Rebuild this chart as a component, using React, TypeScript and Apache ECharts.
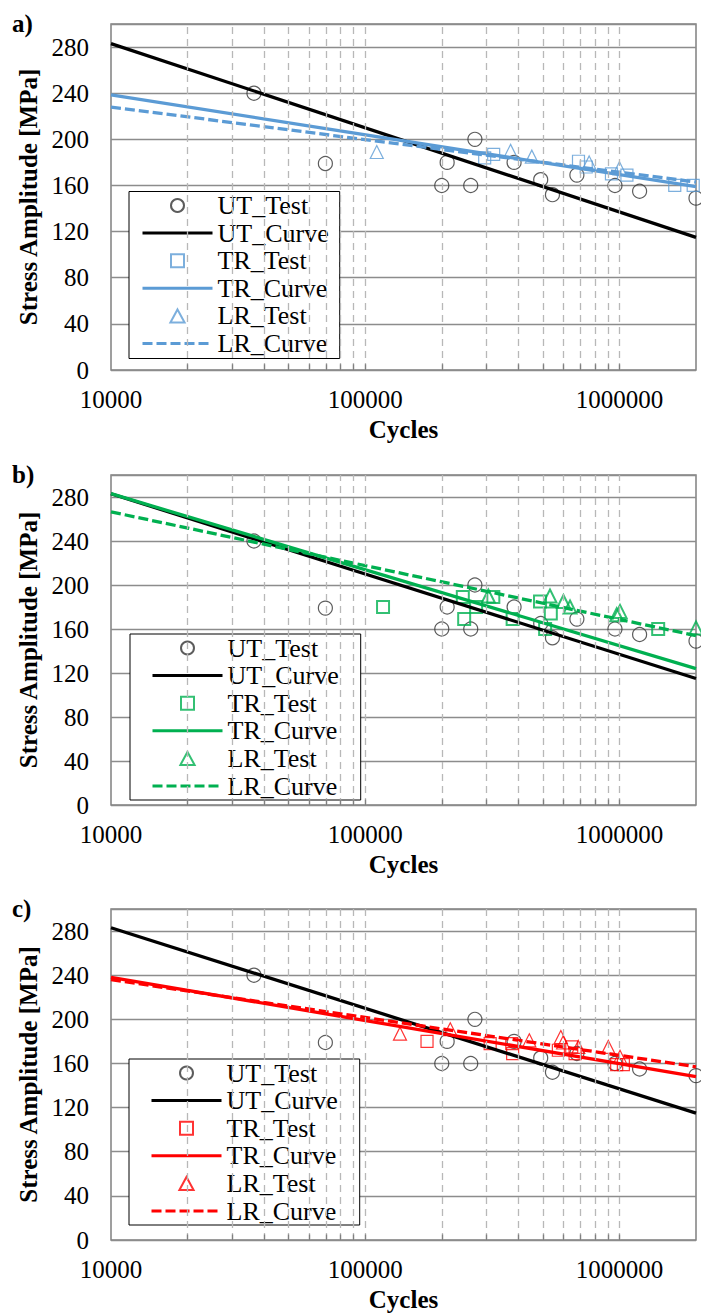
import React, { useEffect, useRef } from "react";
import * as echarts from "echarts";

const SERIF = "Liberation Serif";

// ---------- data ----------
const UT_TEST_CYCLES = [36500, 69700, 200000, 210000, 260000, 270000, 385000, 490000, 545000, 680000, 960000, 1200000, 2000000];
const UT_TEST_STRESS = [240, 179, 160, 180, 160, 200, 180, 165, 152, 169, 160, 155, 149];

const CURVE_CYCLES = [10000, 2000000];
const UT_CURVE_STRESS = [283, 115];

// panel a (blue)
const A_TR_TEST_CYCLES = [295000, 320000, 690000, 740000, 930000, 1070000, 1650000, 1950000];
const A_TR_TEST_STRESS = [184, 187, 181, 176, 170, 169, 160, 160];
const A_LR_TEST_CYCLES = [111000, 373000, 452000, 760000, 1000000];
const A_LR_TEST_STRESS = [189, 190, 185, 180, 175];
const A_TR_CURVE_STRESS = [238.5, 159];
const A_LR_CURVE_STRESS = [228, 163];

// panel b (green)
const B_TR_TEST_CYCLES = [117500, 242000, 245000, 273000, 319000, 380000, 487000, 510000, 537000, 1420000];
const B_TR_TEST_STRESS = [180, 189, 169, 180, 189, 169, 185, 160, 174, 160];
const B_LR_TEST_CYCLES = [305000, 533000, 602000, 639000, 975000, 1005000, 2000000];
const B_LR_TEST_STRESS = [190, 190, 185, 180, 173, 176, 161];
const B_TR_CURVE_STRESS = [283, 124];
const B_LR_CURVE_STRESS = [266.5, 154];

// panel c (red)
const C_TR_TEST_CYCLES = [175000, 310000, 377000, 380000, 575000, 649000, 669000, 975000, 1036000];
const C_TR_TEST_STRESS = [180, 178, 178, 169, 172, 175, 169, 159, 159];
const C_LR_TEST_CYCLES = [137000, 216000, 442000, 588000, 600000, 689000, 904000, 1005000];
const C_LR_TEST_STRESS = [187, 191, 181, 184, 179, 175, 175, 166];
const C_TR_CURVE_STRESS = [238, 148];
const C_LR_CURVE_STRESS = [236, 157];

// axis ticks
const X_MIN = 10000;
const X_MAX = 2000000;
const X_GRID_VALUES = [
  20000, 30000, 40000, 50000, 60000, 70000, 80000, 90000, 100000,
  200000, 300000, 400000, 500000, 600000, 700000, 800000, 900000, 1000000,
];
const Y_MIN = 0;
const Y_MAX = 300;
const Y_INTERVAL = 40;
const X_TICK_LENGTH = 5; // in stress units, drawn upward from the x axis

const LEGEND_NAMES = ["UT_Test", "UT_Curve", "TR_Test", "TR_Curve", "LR_Test", "LR_Curve"];

const zip = (xs: number[], ys: number[]) => xs.map((x, i) => [x, ys[i]]);

const SQUARE_ICON = "path://M0,0L12,0L12,12L0,12Z";
const TRIANGLE_ICON = "path://M6,0L12,11L0,11Z";

// ---------- layout / style ----------
const PANELS = [
  {
    key: "a",
    label: "a)",
    color: "#5B9BD5",
    tr: [A_TR_TEST_CYCLES, A_TR_TEST_STRESS],
    lr: [A_LR_TEST_CYCLES, A_LR_TEST_STRESS],
    trCurve: A_TR_CURVE_STRESS,
    lrCurve: A_LR_CURVE_STRESS,
    top: 24,
    height: 346,
    legendTop: 191.5,
    legendLeft: 129,
    legendPadding: [1, 11, 2, 12],
    markerBorder: 1.2,
  },
  {
    key: "b",
    label: "b)",
    color: "#00B050",
    tr: [B_TR_TEST_CYCLES, B_TR_TEST_STRESS],
    lr: [B_LR_TEST_CYCLES, B_LR_TEST_STRESS],
    trCurve: B_TR_CURVE_STRESS,
    lrCurve: B_LR_CURVE_STRESS,
    top: 475,
    height: 330,
    legendTop: 634,
    legendLeft: 130,
    legendPadding: [1, 22, 1, 21],
    markerBorder: 2,
  },
  {
    key: "c",
    label: "c)",
    color: "#FF0000",
    tr: [C_TR_TEST_CYCLES, C_TR_TEST_STRESS],
    lr: [C_LR_TEST_CYCLES, C_LR_TEST_STRESS],
    trCurve: C_TR_CURVE_STRESS,
    lrCurve: C_LR_CURVE_STRESS,
    top: 909,
    height: 331,
    legendTop: 1059,
    legendLeft: 129,
    legendPadding: [1, 22, 1, 21],
    markerBorder: 1.2,
  },
];

function buildOption() {
  const grid: any[] = [];
  const xAxis: any[] = [];
  const yAxis: any[] = [];
  const legend: any[] = [];
  const series: any[] = [];
  const graphic: any[] = [];

  PANELS.forEach((p, i) => {
    grid.push({
      left: 111,
      width: 585,
      top: p.top,
      height: p.height,
      show: true,
      borderColor: "#808080",
      borderWidth: 1.5,
      backgroundColor: "transparent",
    });
    xAxis.push({
      gridIndex: i,
      type: "log",
      logBase: 10,
      min: X_MIN,
      max: X_MAX,
      axisLine: { show: false },
      axisTick: { show: false },
      splitLine: { show: false },
      axisLabel: {
        showMaxLabel: false,
        margin: 17,
        color: "#000",
        fontFamily: SERIF,
        fontSize: 25,
        formatter: (v: number) => (Math.abs(Math.log10(v) - Math.round(Math.log10(v))) < 1e-6 ? String(Math.round(v)) : ""),
      },
      name: "Cycles",
      nameLocation: "middle",
      nameGap: 47,
      nameTextStyle: { color: "#000", fontFamily: SERIF, fontSize: 25, fontWeight: "bold" },
    });
    yAxis.push({
      gridIndex: i,
      type: "value",
      min: Y_MIN,
      max: Y_MAX,
      interval: Y_INTERVAL,
      axisLine: { show: false },
      axisTick: { show: false },
      splitLine: { show: true, lineStyle: { color: "#8c8c8c", width: 1.3 } },
      axisLabel: {
        showMaxLabel: false,
        margin: 22,
        color: "#000",
        fontFamily: SERIF,
        fontSize: 25,
      },
      name: "Stress Amplitude [MPa]",
      nameLocation: "middle",
      nameGap: 70,
      nameTextStyle: { color: "#000", fontFamily: SERIF, fontSize: 25, fontWeight: "bold" },
    });
    const pre = p.key + ":";
    legend.push({
      data: LEGEND_NAMES.map((n) => {
        if (n.endsWith("Curve")) return { name: pre + n, itemStyle: { opacity: 0 } };
        if (n.startsWith("TR")) return { name: pre + n, icon: SQUARE_ICON };
        if (n.startsWith("LR")) return { name: pre + n, icon: TRIANGLE_ICON };
        return { name: pre + n };
      }),
      formatter: (name: string) => name.slice(2),
      orient: "vertical",
      left: p.legendLeft,
      top: p.legendTop,
      padding: p.legendPadding,
      itemWidth: 70,
      itemHeight: 13,
      itemGap: 1.6,
      symbolKeepAspect: true,
      lineStyle: { width: 3 },
      borderColor: "#000",
      borderWidth: 1,
      backgroundColor: "#fff",
      selectedMode: false,
      textStyle: { color: "#000", fontFamily: SERIF, fontSize: 26, lineHeight: 26 },
    });

    // dashed vertical gridlines
    series.push({
      type: "line",
      name: pre + "grid",
      xAxisIndex: i,
      yAxisIndex: i,
      data: [],
      silent: true,
      z: 1,
      markLine: {
        silent: true,
        symbol: ["none", "none"],
        label: { show: false },
        lineStyle: { color: "#b8b8b8", type: [7, 5], width: 1.3 },
        data: X_GRID_VALUES.map((v) => ({ xAxis: v })),
      },
    });
    // short tick marks on the bottom axis
    series.push({
      type: "line",
      name: pre + "ticks",
      xAxisIndex: i,
      yAxisIndex: i,
      data: [],
      silent: true,
      z: 2,
      markLine: {
        silent: true,
        symbol: ["none", "none"],
        label: { show: false },
        lineStyle: { color: "#808080", type: "solid", width: 1.3 },
        data: X_GRID_VALUES.map((v) => [{ coord: [v, Y_MIN] }, { coord: [v, Y_MIN + X_TICK_LENGTH] }]),
      },
    });

    const scatter = (name: string, data: number[][], symbol: string, size: number, color: string, bw: number) => ({
      type: "scatter",
      name: pre + name,
      xAxisIndex: i,
      yAxisIndex: i,
      data,
      symbol,
      symbolSize: size,
      z: 3,
      itemStyle: { color: "rgba(255,255,255,0)", borderColor: color, borderWidth: bw },
    });
    const line = (name: string, ys: number[], color: string, dashed: boolean) => ({
      type: "line",
      name: pre + name,
      xAxisIndex: i,
      yAxisIndex: i,
      data: zip(CURVE_CYCLES, ys),
      symbol: "none",
      z: 4,
      color,
      lineStyle: { color, width: 3.3, type: dashed ? [10, 4] : "solid" },
    });

    series.push(scatter("UT_Test", zip(UT_TEST_CYCLES, UT_TEST_STRESS), "circle", 14, "#333", 1.2));
    series.push(line("UT_Curve", UT_CURVE_STRESS, "#000", false));
    series.push(scatter("TR_Test", zip(p.tr[0], p.tr[1]), "rect", 12, p.color, p.markerBorder));
    series.push(line("TR_Curve", p.trCurve, p.color, false));
    series.push(scatter("LR_Test", zip(p.lr[0], p.lr[1]), "triangle", 13, p.color, p.markerBorder));
    series.push(line("LR_Curve", p.lrCurve, p.color, true));

    graphic.push({
      type: "text",
      left: 12,
      top: p.top - 13,
      style: { text: p.label, fill: "#000", font: `bold 25px ${SERIF}` },
    });
  });

  return { animation: false, backgroundColor: "#fff", grid, xAxis, yAxis, legend, series, graphic };
}

export default function App() {
  const ref = useRef<HTMLDivElement>(null);
  useEffect(() => {
    if (!ref.current) return;
    const chart = echarts.init(ref.current, null, { renderer: "svg" });
    chart.setOption(buildOption() as any);
    return () => chart.dispose();
  }, []);
  return <div ref={ref} style={{ position: "absolute", left: 0, top: 0, width: 701, height: 1315 }} />;
}
